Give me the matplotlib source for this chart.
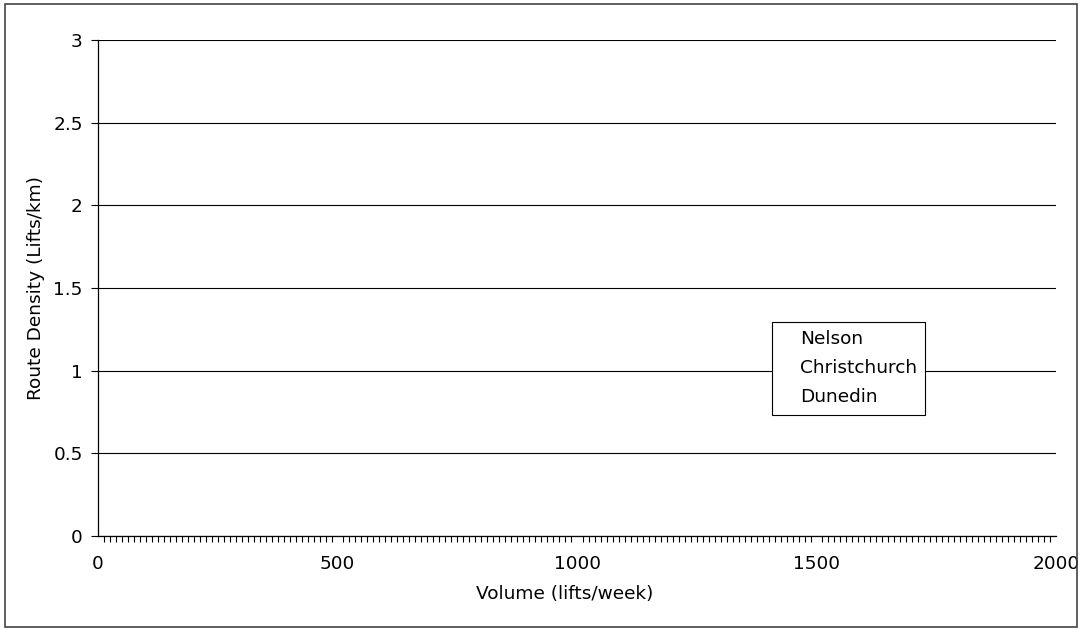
import matplotlib
matplotlib.use("Agg")
import matplotlib.pyplot as plt
from matplotlib.lines import Line2D
from matplotlib.patches import Rectangle
from matplotlib.ticker import MultipleLocator

# Series (no observations recorded yet)
series_names = ["Nelson", "Christchurch", "Dunedin"]
volume = {"Nelson": [], "Christchurch": [], "Dunedin": []}
density = {"Nelson": [], "Christchurch": [], "Dunedin": []}

x_ticks = [0, 500, 1000, 1500, 2000]
y_ticks = [0, 0.5, 1, 1.5, 2, 2.5, 3]
y_tick_labels = ["0", "0.5", "1", "1.5", "2", "2.5", "3"]

plt.rcParams["font.family"] = ["DejaVu Sans"]
FS = 13.3
W, H, DPI = 1083, 629, 100
fig = plt.figure(figsize=(W / DPI, H / DPI), dpi=DPI)

left, right, top, bottom = 98, 1056, 40, 536
ax = fig.add_axes([left / W, 1 - bottom / H, (right - left) / W, (bottom - top) / H])

handles = []
for name in series_names:
    ax.plot(volume[name], density[name], linestyle="none", marker="none", label=name)
    handles.append(Line2D([], [], linestyle="none", marker="none"))

ax.set_xlim(0, 2000)
ax.set_ylim(0, 3)
ax.set_xticks(x_ticks)
ax.set_xticklabels([str(v) for v in x_ticks], fontsize=FS)
ax.xaxis.set_minor_locator(MultipleLocator(12.5))
ax.set_yticks(y_ticks)
ax.set_yticklabels(y_tick_labels, fontsize=FS)

ax.tick_params(axis="x", which="minor", direction="out", length=4, width=0.8,
               color="black")
ax.tick_params(axis="x", which="major", length=0, pad=14)
ax.tick_params(axis="y", which="major", direction="out", length=5, width=0.8,
               color="black", pad=6)

ax.yaxis.grid(True, color="black", linewidth=0.8)
ax.set_axisbelow(True)
for side in ("top", "right"):
    ax.spines[side].set_visible(False)
for side in ("left", "bottom"):
    ax.spines[side].set_color("black")
    ax.spines[side].set_linewidth(0.9)

ax.set_xlabel("Volume (lifts/week)", fontsize=FS)
ax.xaxis.set_label_coords((565 - left) / (right - left), -(594 - bottom) / (bottom - top),
                          transform=ax.transAxes)
ax.xaxis.label.set_va("center")
ax.set_ylabel("Route Density (Lifts/km)", fontsize=FS)
ax.yaxis.set_label_coords(-(left - 36) / (right - left), 0.5, transform=ax.transAxes)
ax.yaxis.label.set_va("center")

leg = ax.legend(handles, series_names, loc="upper left",
                bbox_to_anchor=((772 - left) / (right - left), 1 - (322 - top) / (bottom - top)),
                frameon=True, fancybox=False, fontsize=FS, handlelength=0.55,
                handletextpad=0.5, borderpad=0.45, labelspacing=0.6,
                borderaxespad=0)
leg.get_frame().set_edgecolor("black")
leg.get_frame().set_linewidth(0.8)
leg.get_frame().set_facecolor("white")
leg.get_frame().set_alpha(1)

# Outer chart border
fig.patches.append(Rectangle((5 / W, 1 - 627 / H), (1077 - 5) / W, (627 - 4) / H,
                             transform=fig.transFigure, fill=False,
                             edgecolor="#444444", linewidth=1.2))

fig.savefig("out.png", dpi=DPI, facecolor="white")
